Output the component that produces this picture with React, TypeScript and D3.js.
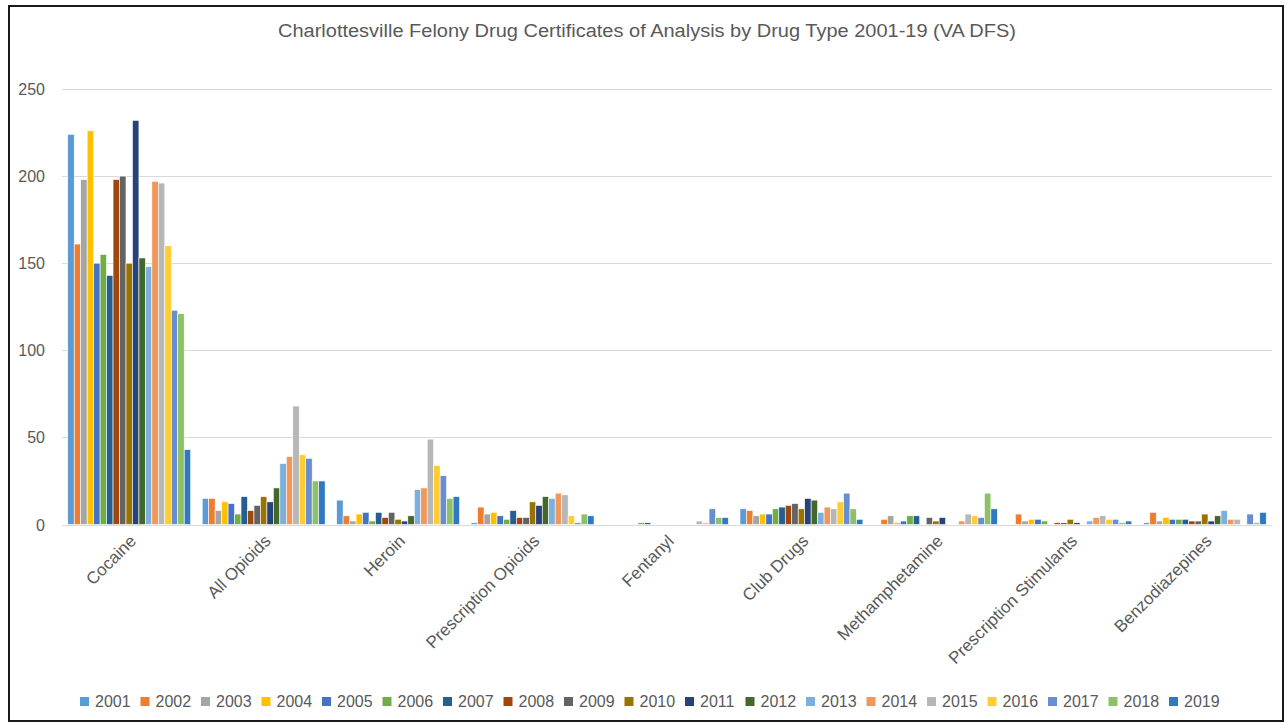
import React from "react";
import * as d3 from "d3";

const title = "Charlottesville Felony Drug Certificates of Analysis by Drug Type 2001-19 (VA DFS)";
const categories = ["Cocaine", "All Opioids", "Heroin", "Prescription Opioids", "Fentanyl", "Club Drugs", "Methamphetamine", "Prescription Stimulants", "Benzodiazepines"];
const years = ["2001","2002","2003","2004","2005","2006","2007","2008","2009","2010","2011","2012","2013","2014","2015","2016","2017","2018","2019"];
const colors = ["#5B9BD5","#ED7D31","#A5A5A5","#FFC000","#4472C4","#70AD47","#255E91","#9E480E","#636363","#997300","#264478","#43682B","#7CAFDD","#F1975A","#B7B7B7","#FFCD33","#698ED0","#8CC168","#3079C2"];

// values per category, indexed by year 2001..2019
const cocaine = [224,161,198,226,150,155,143,198,200,150,232,153,148,197,196,160,123,121,43];
const allOpioids = [15,15,8,13,12,6,16,8,11,16,13,21,35,39,68,40,38,25,25];
const heroin = [14,5,2,6,7,2,7,4,7,3,2,5,20,21,49,34,28,15,16];
const rxOpioids = [1,10,6,7,5,3,8,4,4,13,11,16,15,18,17,5,1,6,5];
const fentanyl = [0,0,0,0,0,1,1,0,0,0,0,0,0,0,2,1,9,4,4];
const clubDrugs = [9,8,5,6,6,9,10,11,12,9,15,14,7,10,9,13,18,9,3];
const meth = [0,3,5,1,2,5,5,0,4,2,4,0,0,2,6,5,4,18,9];
const rxStimulants = [0,6,2,3,3,2,0,1,1,3,1,0,2,4,5,3,3,1,2];
const benzos = [1,7,2,4,3,3,3,2,2,6,2,5,8,3,3,0,6,1,7];
const seriesByCategory = [cocaine, allOpioids, heroin, rxOpioids, fentanyl, clubDrugs, meth, rxStimulants, benzos];
const yTicks = [0,50,100,150,200,250];

const W = 1285, H = 723;
const FONT = "'Liberation Sans', Arial, sans-serif";
const TXT = "#595959";

export default function App() {
  const x0 = d3.scaleBand<string>().domain(categories).range([62, 1272]).padding(0);
  const x1 = d3.scaleBand<string>().domain(years).range([0, x0.bandwidth()]).paddingInner(0).paddingOuter(0.89);
  const y = d3.scaleLinear().domain([0, 250]).range([524.5, 89]);

  const legendX = (i: number) => 80 + i * 60.5;

  return (
    <div style={{ position: "absolute", left: 0, top: 0 }}>
      <svg width={W} height={H} style={{ display: "block", background: "#fff" }}>
        <rect x={9} y={6} width={1283 - 9} height={721 - 6} fill="#fff" stroke="#1a1a1a" strokeWidth={2} />
        <text x={647} y={37} textAnchor="middle" fontFamily={FONT} fontSize={18} fill={TXT} textLength={738} lengthAdjust="spacingAndGlyphs">{title}</text>
        {yTicks.map(t => (
          <g key={t}>
            <line x1={62} x2={1272} y1={Math.round(y(t)) + 0.5} y2={Math.round(y(t)) + 0.5} stroke="#d9d9d9" strokeWidth={1} />
            <text x={45} y={y(t) + 6} textAnchor="end" fontFamily={FONT} fontSize={16} fill={TXT}>{t}</text>
          </g>
        ))}
        {categories.map((c, ci) => (
          <g key={c} transform={`translate(${x0(c)},0)`}>
            {years.map((yr, yi) => {
              const v = seriesByCategory[ci][yi];
              if (!v) return null;
              return (
                <rect key={yr} x={x1(yr)} y={y(v)} width={x1.bandwidth()} height={y(0) - y(v)}
                  fill={colors[yi]} stroke="#fff" strokeWidth={0.6} />
              );
            })}
          </g>
        ))}
        {categories.map(c => {
          const cx = (x0(c) as number) + x0.bandwidth() / 2 + 8;
          const cy = 542;
          return (
            <text key={c} x={cx} y={cy} transform={`rotate(-45 ${cx} ${cy})`} textAnchor="end"
              fontFamily={FONT} fontSize={17} fill={TXT}>{c}</text>
          );
        })}
        {years.map((yr, i) => (
          <g key={yr}>
            <rect x={legendX(i)} y={697} width={9} height={9} fill={colors[i]} />
            <text x={legendX(i) + 15} y={707} fontFamily={FONT} fontSize={16} fill={TXT}>{yr}</text>
          </g>
        ))}
      </svg>
    </div>
  );
}
